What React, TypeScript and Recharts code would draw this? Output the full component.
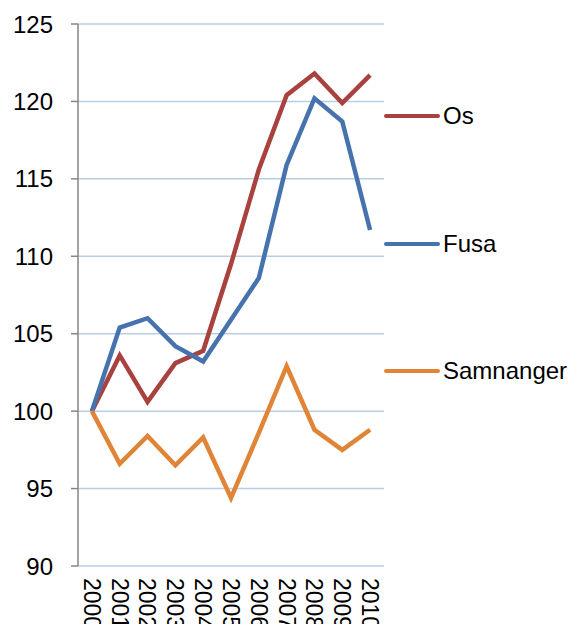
import { LineChart, Line, XAxis, YAxis, CartesianGrid } from 'recharts';

const years = ['2000', '2001', '2002', '2003', '2004', '2005', '2006', '2007', '2008', '2009', '2010'];
const osValues = [100, 103.6, 100.6, 103.1, 103.9, 109.5, 115.6, 120.4, 121.8, 119.9, 121.7];
const fusaValues = [100, 105.4, 106.0, 104.2, 103.2, 105.9, 108.6, 115.9, 120.2, 118.7, 111.7];
const samnangerValues = [100, 96.6, 98.4, 96.5, 98.3, 94.4, 98.6, 102.9, 98.8, 97.5, 98.8];
const yTicks = [90, 95, 100, 105, 110, 115, 120, 125];

const series = [
  { key: 'os', name: 'Os', color: '#A9413E' },
  { key: 'fusa', name: 'Fusa', color: '#4673AE' },
  { key: 'samnanger', name: 'Samnanger', color: '#E08538' },
];

const data = years.map((year, i) => ({
  idx: i,
  year,
  os: osValues[i],
  fusa: fusaValues[i],
  samnanger: samnangerValues[i],
}));

const FONT = 'Arial, "Liberation Sans", sans-serif';
const AXIS = '#868686';

function YearTick(props: any) {
  const { x, y, payload } = props;
  return (
    <text
      x={0}
      y={0}
      dy="0.35em"
      transform={`translate(${x},${y + 4}) rotate(90)`}
      textAnchor="start"
      fontSize={23}
      fontFamily={FONT}
      fill="#000"
    >
      {years[payload.value]}
    </text>
  );
}

// legend sits to the right of the plot, one entry per series
function SideLegend() {
  return (
    <div style={{ position: 'absolute', left: 384, top: 103, width: 185 }}>
      {series.map((s, i) => (
        <div
          key={s.key}
          style={{
            position: 'absolute',
            left: 0,
            top: i * 127.6,
            display: 'flex',
            alignItems: 'center',
            fontFamily: FONT,
            fontSize: 24,
            lineHeight: '26px',
            color: '#000',
            whiteSpace: 'nowrap',
          }}
        >
          <span style={{ display: 'inline-block', width: 56, height: 4, borderRadius: 2, background: s.color, marginRight: 3 }} />
          {s.name}
        </div>
      ))}
    </div>
  );
}

export default function App() {
  return (
    <div style={{ position: 'absolute', left: 0, top: 0, width: 569, height: 624, background: '#fff' }}>
      <LineChart width={569} height={624} data={data} margin={{ top: 24, right: 185, bottom: 0, left: 0 }}>
        <CartesianGrid horizontal vertical={false} stroke="#B9CDE5" strokeWidth={1.5} />
        <XAxis
          xAxisId="marks"
          dataKey="idx"
          type="number"
          domain={[-0.5, 10.5]}
          ticks={[-0.5, 0.5, 1.5, 2.5, 3.5, 4.5, 5.5, 6.5, 7.5, 8.5, 9.5, 10.5]}
          tick={false}
          height={0}
          stroke={AXIS}
          strokeWidth={1.5}
          tickSize={6}
        />
        <XAxis
          xAxisId="labels"
          dataKey="idx"
          type="number"
          domain={[-0.5, 10.5]}
          ticks={years.map((_, i) => i)}
          tick={<YearTick />}
          tickLine={false}
          axisLine={false}
          height={58}
          interval={0}
        />
        <YAxis
          domain={[90, 125]}
          ticks={yTicks}
          width={78}
          stroke={AXIS}
          strokeWidth={1.5}
          tickSize={7}
          tickMargin={18}
          tick={{ fill: '#000', fontSize: 24, fontFamily: FONT }}
          interval={0}
        />
        {series.map((s) => (
          <Line
            key={s.key}
            xAxisId="labels"
            dataKey={s.key}
            name={s.name}
            stroke={s.color}
            strokeWidth={4.5}
            dot={false}
            activeDot={false}
            type="linear"
            isAnimationActive={false}
          />
        ))}
      </LineChart>
      <SideLegend />
    </div>
  );
}
